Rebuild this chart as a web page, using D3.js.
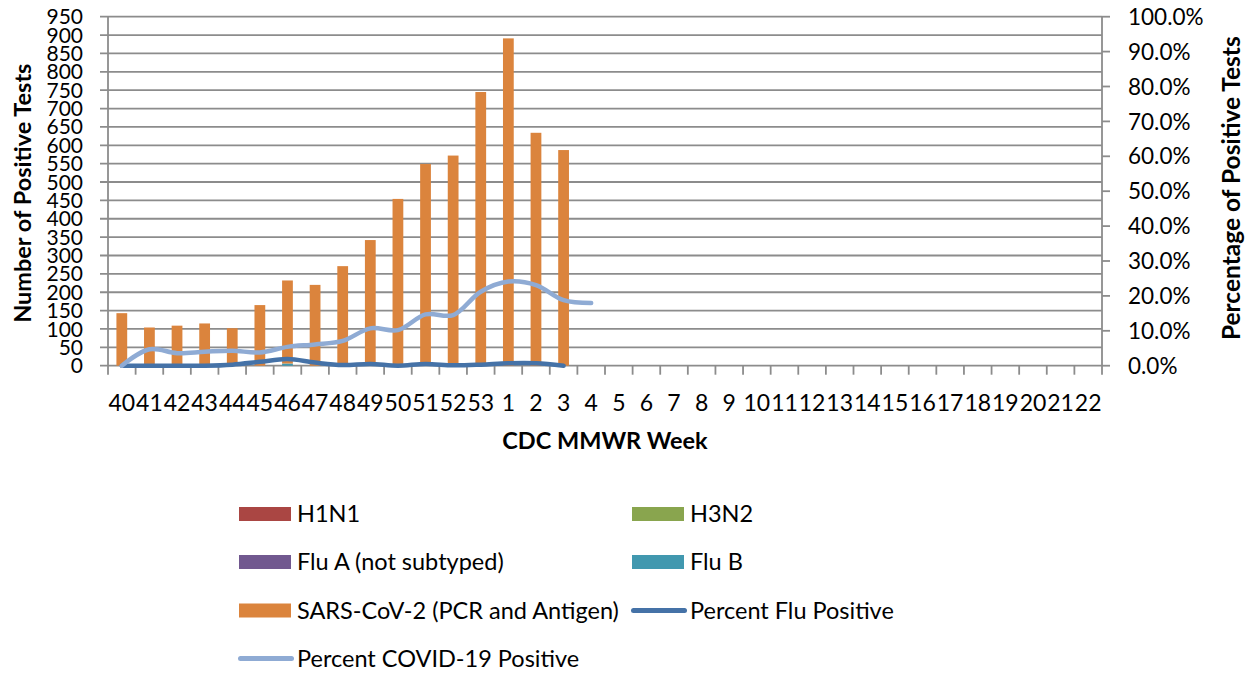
<!DOCTYPE html>
<html>
<head>
<meta charset="utf-8">
<script src="https://cdn.jsdelivr.net/npm/d3@7"></script>
<style>
  body { margin: 0; background: #fff; }
  svg { display: block; font-family: Lato, "Open Sans", sans-serif; }
</style>
</head>
<body>
<svg id="chart" width="1256" height="673"></svg>
<script>
// ── Data ─────────────────────────────────────────────────────────────────
const weeks = ["40","41","42","43","44","45","46","47","48","49","50","51","52","53",
  "1","2","3","4","5","6","7","8","9","10","11","12","13","14","15","16","17","18","19","20","21","22"];

// counts per week (only weeks with reported data)
const h1n1     = [0,0,0,0,0,0,0,0,0,0,0,0,0,0,0,0,0];
const h3n2     = [0,0,0,0,0,0,0,0,0,0,0,0,0,0,0,0,0];
const fluA     = [0,0,0,0,0,0,0,0,0,0,0,0,0,0,0,0,0];
const fluB     = [0,0,0,0,0,0,6,0,0,0,0,0,0,0,0,0,0];
const sarsCov2 = [143,104,109,115,102,165,226,220,271,342,454,549,572,745,891,634,587];

// percent positive (fraction)
const pctFlu   = [0,0,0,0,0.003,0.011,0.019,0.009,0.002,0.005,0,0.005,0.001,0.003,0.007,0.007,0];
const pctCovid = [0,0.047,0.036,0.040,0.043,0.038,0.054,0.061,0.071,0.107,0.102,0.147,0.145,0.212,0.241,0.231,0.188,0.180];

const leftTicks = d3.range(0, 951, 50);
const rightTicks = d3.range(0, 1.0001, 0.1);

const barSeries = [
  { name: "H1N1", values: h1n1, color: "#AA4643" },
  { name: "H3N2", values: h3n2, color: "#89A54E" },
  { name: "Flu A (not subtyped)", values: fluA, color: "#71588F" },
  { name: "Flu B", values: fluB, color: "#4198AF" },
  { name: "SARS-CoV-2 (PCR and Antigen)", values: sarsCov2, color: "#DB843D" },
];
const lineSeries = [
  { name: "Percent Flu Positive", values: pctFlu, color: "#4572A7" },
  { name: "Percent COVID-19 Positive", values: pctCovid, color: "#8FABD4" },
];

// ── Layout ───────────────────────────────────────────────────────────────
const svg = d3.select("#chart");
const plot = { left: 108, right: 1102, top: 16.7, bottom: 365.7 };
const GRID = "#8C8C8C";

const x = d3.scaleBand().domain(weeks).range([plot.left, plot.right]).padding(0);
const yL = d3.scaleLinear().domain([0, 950]).range([plot.bottom, plot.top]);
const yR = d3.scaleLinear().domain([0, 1]).range([plot.bottom, plot.top]);
const barW = x.bandwidth() * 0.39;

// gridlines + left ticks
svg.append("g")
  .selectAll("line")
  .data(leftTicks)
  .join("line")
  .attr("x1", plot.left - 8).attr("x2", plot.right)
  .attr("y1", d => yL(d)).attr("y2", d => yL(d))
  .attr("stroke", GRID).attr("stroke-width", 1.8);

// left axis line
svg.append("line")
  .attr("x1", plot.left).attr("x2", plot.left)
  .attr("y1", plot.top).attr("y2", plot.bottom)
  .attr("stroke", GRID).attr("stroke-width", 1.8);

// right axis line + ticks
svg.append("line")
  .attr("x1", plot.right).attr("x2", plot.right)
  .attr("y1", plot.top).attr("y2", plot.bottom)
  .attr("stroke", GRID).attr("stroke-width", 1.8);
svg.append("g")
  .selectAll("line")
  .data(rightTicks)
  .join("line")
  .attr("x1", plot.right).attr("x2", plot.right + 8)
  .attr("y1", d => yR(d)).attr("y2", d => yR(d))
  .attr("stroke", GRID).attr("stroke-width", 1.8);

// bottom ticks at category boundaries
const bounds = weeks.map(w => x(w)).concat([plot.right]);
svg.append("g")
  .selectAll("line")
  .data(bounds)
  .join("line")
  .attr("x1", d => d).attr("x2", d => d)
  .attr("y1", plot.bottom).attr("y2", plot.bottom + 9)
  .attr("stroke", GRID).attr("stroke-width", 1.8);

// ── Bars (stacked) ───────────────────────────────────────────────────────
const nData = sarsCov2.length;
const rows = d3.range(nData).map(i => {
  const r = { week: weeks[i] };
  barSeries.forEach(s => r[s.name] = s.values[i]);
  return r;
});
const stack = d3.stack().keys(barSeries.map(s => s.name))(rows);

svg.append("g")
  .selectAll("g")
  .data(stack)
  .join("g")
  .attr("fill", (d, i) => barSeries[i].color)
  .selectAll("rect")
  .data(d => d)
  .join("rect")
  .attr("x", d => x(d.data.week) + (x.bandwidth() - barW) / 2)
  .attr("width", barW)
  .attr("y", d => yL(d[1]))
  .attr("height", d => Math.max(0, yL(d[0]) - yL(d[1])));

// ── Lines ────────────────────────────────────────────────────────────────
const line = d3.line()
  .x((d, i) => x(weeks[i]) + x.bandwidth() / 2)
  .y(d => yR(d))
  .curve(d3.curveCatmullRom.alpha(0.5));

svg.append("g")
  .selectAll("path")
  .data(lineSeries)
  .join("path")
  .attr("d", d => line(d.values))
  .attr("fill", "none")
  .attr("stroke", d => d.color)
  .attr("stroke-width", 4.5)
  .attr("stroke-linejoin", "round")
  .attr("stroke-linecap", "round");

// ── Axis labels ──────────────────────────────────────────────────────────
svg.append("g")
  .selectAll("text")
  .data(leftTicks)
  .join("text")
  .attr("x", 83).attr("y", d => yL(d))
  .attr("dy", "0.36em")
  .attr("text-anchor", "end")
  .style("font-size", "21px")
  .attr("fill", "#000")
  .text(d => d);

svg.append("g")
  .selectAll("text")
  .data(rightTicks)
  .join("text")
  .attr("x", 1128).attr("y", d => yR(d))
  .attr("dy", "0.36em")
  .style("font-size", "22.5px")
  .attr("fill", "#000")
  .text(d => d3.format(".1%")(d));

svg.append("g")
  .selectAll("text")
  .data(weeks)
  .join("text")
  .attr("x", d => x(d) + x.bandwidth() / 2)
  .attr("y", 410.5)
  .attr("text-anchor", "middle")
  .style("font-size", "23px")
  .attr("fill", "#000")
  .text(d => d);

// titles
svg.append("text")
  .attr("transform", `translate(31,${(plot.top + plot.bottom) / 2 + 2}) rotate(-90)`)
  .attr("text-anchor", "middle")
  .style("font-size", "23.5px").style("font-weight", "bold")
  .text("Number of Positive Tests");

svg.append("text")
  .attr("transform", `translate(1240,${(plot.top + plot.bottom) / 2 - 3}) rotate(-90)`)
  .attr("text-anchor", "middle")
  .style("font-size", "24.5px").style("font-weight", "bold")
  .text("Percentage of Positive Tests");

svg.append("text")
  .attr("x", 605).attr("y", 449)
  .attr("text-anchor", "middle")
  .style("font-size", "23.5px").style("font-weight", "bold")
  .text("CDC MMWR Week");

// ── Legend ───────────────────────────────────────────────────────────────
const legendItems = barSeries.map(s => ({ name: s.name, color: s.color, kind: "bar" }))
  .concat(lineSeries.map(s => ({ name: s.name, color: s.color, kind: "line" })));
const colX = [239, 632];
const rowY = [514, 562, 610.5, 658.5];

const leg = svg.append("g")
  .selectAll("g")
  .data(legendItems)
  .join("g")
  .attr("transform", (d, i) => `translate(${colX[i % 2]},${rowY[Math.floor(i / 2)]})`);

leg.filter(d => d.kind === "bar").append("rect")
  .attr("x", 0).attr("y", -7).attr("width", 52).attr("height", 14)
  .attr("fill", d => d.color);

leg.filter(d => d.kind === "line").append("line")
  .attr("x1", 1.5).attr("x2", 52.5).attr("y1", 0).attr("y2", 0)
  .attr("stroke", d => d.color).attr("stroke-width", 5)
  .attr("stroke-linecap", "round");

leg.append("text")
  .attr("x", 58).attr("dy", "0.36em")
  .style("font-size", "23.5px")
  .text(d => d.name);
</script>
</body>
</html>
